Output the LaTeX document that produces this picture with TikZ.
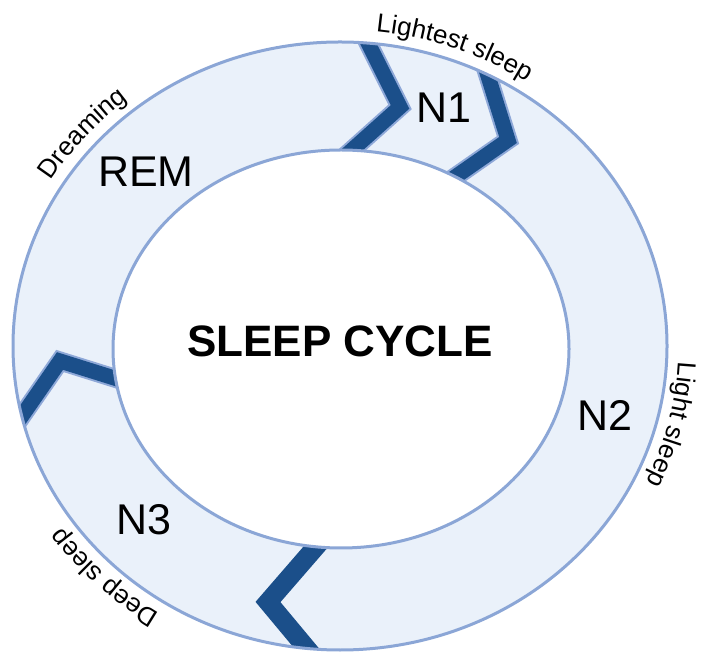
\documentclass[tikz,border=0pt]{standalone}
\usepackage{fontspec}
\setmainfont{Liberation Sans}
\usetikzlibrary{decorations.text}
\definecolor{ringfill}{HTML}{EAF1FA}
\definecolor{ringline}{HTML}{8BA6D6}
\definecolor{chevdark}{HTML}{1B4F8A}
\definecolor{chevlight}{HTML}{8EA8D8}

\begin{document}
\begin{tikzpicture}[x=1pt,y=1pt,
  ring/.style={draw=ringline,line width=3pt},
  chevron/.style={draw=chevdark,line width=15pt},
  chevedge/.style={draw=chevlight,line width=19pt},
  stage/.style={font=\fontsize{43}{43}\selectfont,inner sep=0pt},
  arclabel/.style={decorate,decoration={text along path,text align=center,
    text={|\fontsize{26}{26}\selectfont|#1}}}]
\useasboundingbox (0,0) rectangle (708,655);
\coordinate (c) at (340,309);
\coordinate (ci) at (341,306);

\fill[ringfill] (c) ellipse[x radius=327pt,y radius=304pt];
\begin{scope}
  \clip (c) ellipse[x radius=327pt,y radius=304pt];
  \coordinate (a1) at (365,618); \coordinate (a2) at (400,548); \coordinate (a3) at (343,497);
  \coordinate (b1) at (483,595); \coordinate (b2) at (508,515); \coordinate (b3) at (445,471);
  \coordinate (c1) at (320,113); \coordinate (c2) at (268,53);  \coordinate (c3) at (318,-7);
  \coordinate (d1) at (15,229);  \coordinate (d2) at (60,294);  \coordinate (d3) at (127,273);
  \draw[chevedge] (a1) -- (a2) -- (a3);
  \draw[chevron] (a1) -- (a2) -- (a3);
  \draw[chevedge] (b1) -- (b2) -- (b3);
  \draw[chevron] (b1) -- (b2) -- (b3);
  \draw[chevron,line width=19pt] (c1) -- (c2) -- (c3);
  \draw[chevedge] (d1) -- (d2) -- (d3);
  \draw[chevron] (d1) -- (d2) -- (d3);
\end{scope}
\fill[white] (ci) ellipse[x radius=228pt,y radius=199pt];
\draw[ring] (ci) ellipse[x radius=228pt,y radius=199pt];
\draw[ring] (c) ellipse[x radius=327pt,y radius=304pt];

\node[stage] (n1) at (444,547) {N1};
\node[stage] (n2) at (605,240) {N2};
\node[stage] (n3) at (144,135) {N3};
\node[stage] (rem) at (146,483) {REM};
\node[font=\bfseries\fontsize{44}{44}\selectfont,inner sep=0pt] (title) at (340,314) {SLEEP CYCLE};

\path[arclabel={Lightest sleep}] ([shift={(c)}]100:339pt and 316pt)
  arc[start angle=100,end angle=40,x radius=339pt,y radius=316pt];
\path[arclabel={Dreaming}] ([shift={(c)}]169:339pt and 316pt)
  arc[start angle=169,end angle=109,x radius=339pt,y radius=316pt];
\path[arclabel={Light sleep}] ([shift={(c)}]16:339pt and 316pt)
  arc[start angle=16,end angle=-44,x radius=339pt,y radius=316pt];
\path[arclabel={Deep sleep}] ([shift={(c)}]256:339pt and 316pt)
  arc[start angle=256,end angle=196,x radius=339pt,y radius=316pt];
\end{tikzpicture}
\end{document}
